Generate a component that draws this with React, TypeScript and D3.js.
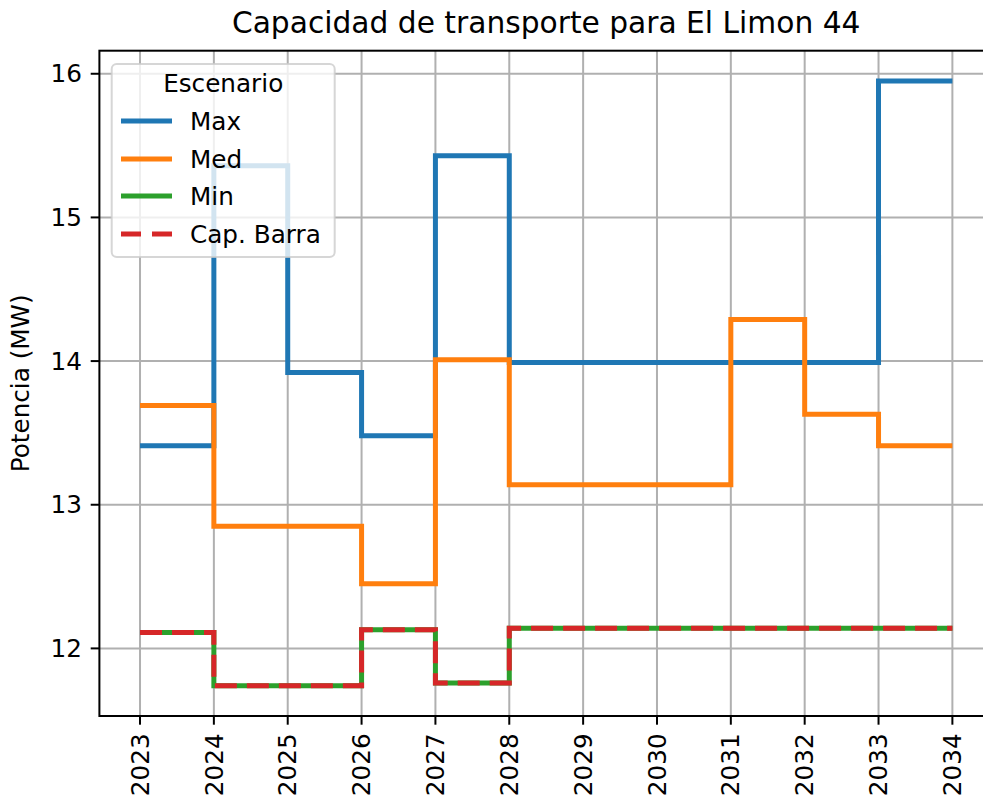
import React from 'react'
import * as d3 from 'd3'

// years (steps-post, last point repeats the previous value)
const years = [2023, 2024, 2025, 2026, 2027, 2028, 2029, 2030, 2031, 2032, 2033, 2034]
const maxVals = [13.41, 15.36, 13.92, 13.48, 15.43, 13.99, 13.99, 13.99, 13.99, 13.99, 15.95, 15.95]
const medVals = [13.69, 12.85, 12.85, 12.45, 14.01, 13.14, 13.14, 13.14, 14.29, 13.63, 13.41, 13.41]
const minVals = [12.11, 11.74, 11.74, 12.13, 11.76, 12.14, 12.14, 12.14, 12.14, 12.14, 12.14, 12.14]
const capVals = [12.11, 11.74, 11.74, 12.13, 11.76, 12.14, 12.14, 12.14, 12.14, 12.14, 12.14, 12.14]
const yTicks = [12, 13, 14, 15, 16]
const legendTitle = 'Escenario'
const seriesNames = ['Max', 'Med', 'Min', 'Cap. Barra']
const title = 'Capacidad de transporte para El Limon 44'
const yLabel = 'Potencia (MW)'

const colors = ['#1f77b4', '#ff7f0e', '#2ca02c', '#d62728']
const font = 'DejaVu Sans, sans-serif'
const fs = 24.7

export default function App() {
  const width = 983
  const height = 800
  const left = 99.4
  const right = 993
  const top = 50.7
  const bottom = 716
  const tick = 8.7

  // matplotlib-style 5% margins
  const xPad = (d3.max(years)! - d3.min(years)!) * 0.05
  const allY = [...maxVals, ...medVals, ...minVals, ...capVals]
  const [yMin, yMax] = d3.extent(allY) as [number, number]
  const yPad = (yMax - yMin) * 0.05

  const x = d3
    .scaleLinear()
    .domain([d3.min(years)! - xPad, d3.max(years)! + xPad])
    .range([left, right])
  const y = d3
    .scaleLinear()
    .domain([yMin - yPad, yMax + yPad])
    .range([bottom, top])

  const line = d3
    .line<number>()
    .x((_, i) => x(years[i]))
    .y(d => y(d))
    .curve(d3.curveStepAfter)

  const series = [maxVals, medVals, minVals, capVals]

  // legend layout
  const lg = { x: 111.7, y: 64, w: 223, h: 193 }
  const rowY = [121, 159, 196, 234]

  return (
    <svg
      width={width}
      height={height}
      style={{ position: 'absolute', left: 0, top: 0, background: '#fff' }}
      fontFamily={font}
    >
      <defs>
        <clipPath id="plot">
          <rect x={left} y={top} width={right - left} height={bottom - top} />
        </clipPath>
      </defs>

      {/* grid */}
      {years.map(t => (
        <line key={'gx' + t} x1={x(t)} x2={x(t)} y1={top} y2={bottom} stroke="#b0b0b0" strokeWidth={2} />
      ))}
      {yTicks.map(t => (
        <line key={'gy' + t} x1={left} x2={right} y1={y(t)} y2={y(t)} stroke="#b0b0b0" strokeWidth={2} />
      ))}

      {/* lines */}
      <g clipPath="url(#plot)">
        {series.map((vals, i) => (
          <path
            key={i}
            d={line(vals)!}
            fill="none"
            stroke={colors[i]}
            strokeWidth={5}
            strokeDasharray={i === 3 ? '22 10' : undefined}
          />
        ))}
      </g>

      {/* spines */}
      <rect x={left} y={top} width={right - left} height={bottom - top} fill="none" stroke="#000" strokeWidth={2} />

      {/* x ticks */}
      {years.map(t => (
        <g key={'xt' + t}>
          <line x1={x(t)} x2={x(t)} y1={bottom} y2={bottom + tick} stroke="#000" strokeWidth={2} />
          <text
            transform={`translate(${x(t)},${bottom + 2 * tick}) rotate(-90)`}
            textAnchor="end"
            dy="0.35em"
            fontSize={fs}
            fill="#000"
          >
            {t}
          </text>
        </g>
      ))}

      {/* y ticks */}
      {yTicks.map(t => (
        <g key={'yt' + t}>
          <line x1={left - tick} x2={left} y1={y(t)} y2={y(t)} stroke="#000" strokeWidth={2} />
          <text x={left - 2 * tick} y={y(t)} dy="0.35em" textAnchor="end" fontSize={fs} fill="#000">
            {t}
          </text>
        </g>
      ))}

      {/* labels */}
      <text
        transform={`translate(20,${(top + bottom) / 2}) rotate(-90)`}
        textAnchor="middle"
        dy="0.35em"
        fontSize={fs}
        fill="#000"
      >
        {yLabel}
      </text>
      <text x={(left + right) / 2} y={33} textAnchor="middle" fontSize={29.7} fill="#000">
        {title}
      </text>

      {/* legend */}
      <rect
        x={lg.x}
        y={lg.y}
        width={lg.w}
        height={lg.h}
        rx={5}
        fill="#fff"
        fillOpacity={0.8}
        stroke="#cccccc"
        strokeOpacity={0.8}
        strokeWidth={2}
      />
      <text x={lg.x + lg.w / 2} y={83} dy="0.35em" textAnchor="middle" fontSize={fs} fill="#000">
        {legendTitle}
      </text>
      {seriesNames.map((name, i) => (
        <g key={name}>
          <line
            x1={121}
            x2={172}
            y1={rowY[i]}
            y2={rowY[i]}
            stroke={colors[i]}
            strokeWidth={5}
            strokeDasharray={i === 3 ? '20 11' : undefined}
          />
          <text x={190} y={rowY[i]} dy="0.35em" fontSize={fs} fill="#000">
            {name}
          </text>
        </g>
      ))}
    </svg>
  )
}
